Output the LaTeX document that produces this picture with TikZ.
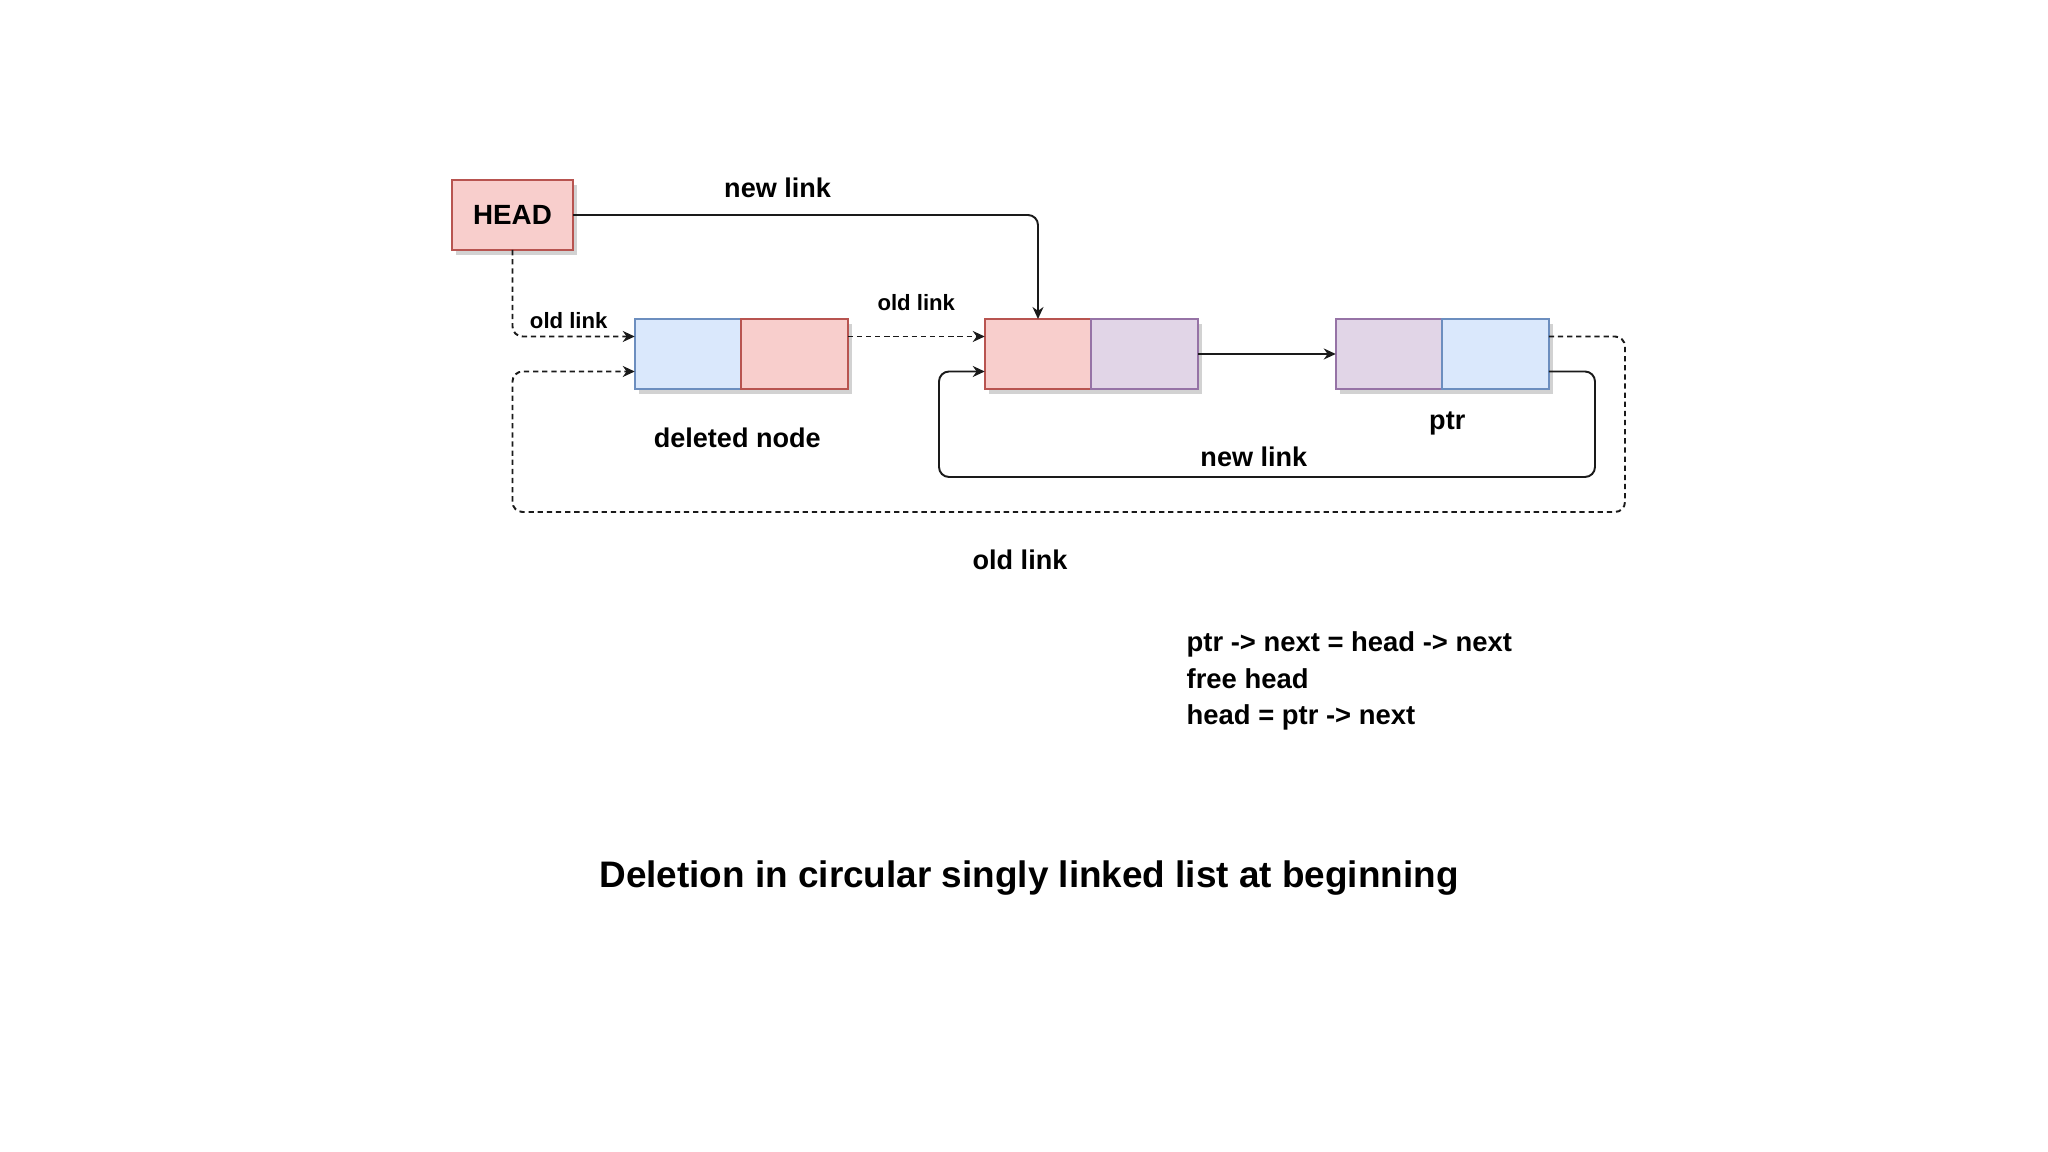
\documentclass[tikz,border=0pt]{standalone}
\usepackage{fontspec}
\setmainfont{Liberation Sans}
\usepackage{xcolor}
\usepackage{tikz}
\usetikzlibrary{positioning, arrows.meta, calc, shadows}
\definecolor{bluecell}{HTML}{DAE8FC}
\definecolor{blueline}{HTML}{6C8EBF}
\definecolor{redcell}{HTML}{F8CECC}
\definecolor{redline}{HTML}{B85450}
\definecolor{purplecell}{HTML}{E1D5E7}
\definecolor{purpleline}{HTML}{9673A6}
\definecolor{wire}{HTML}{1A1A1A}
\tikzset{
  cell/.style      = {rectangle, line width=0.45pt, minimum width=1.065cm,
                      minimum height=0.70cm, inner sep=0pt, outer sep=0pt,
                      drop shadow={shadow xshift=0.4mm, shadow yshift=-0.5mm,
                      opacity=0.35}},
  bluebox/.style   = {cell, draw=blueline, fill=bluecell},
  redbox/.style    = {cell, draw=redline, fill=redcell},
  purplebox/.style = {cell, draw=purpleline, fill=purplecell},
  headbox/.style   = {cell, draw=redline, fill=redcell, minimum width=1.21cm,
                      font=\fontsize{7.9}{9}\selectfont\bfseries},
  lbl/.style       = {font=\fontsize{7.7}{9}\selectfont\bfseries, inner sep=1pt},
  smalllbl/.style  = {font=\fontsize{6.3}{7.5}\selectfont\bfseries, inner sep=1pt},
  arr/.style       = {-{Stealth[length=1.2mm,width=1.1mm]}, line width=0.55pt,
                      draw=wire, rounded corners=1mm},
  darr/.style      = {arr, dash pattern=on 1.5pt off 1.1pt},
}

\begin{document}
\begin{tikzpicture}[node distance=0.5cm and 0.7cm]
  \path[use as bounding box, fill=white] (0,0) rectangle (20.48,11.52);

  % head and list cells
  \node[headbox] (head) at (5.125,9.37) {HEAD};
  \node[bluebox] (d1) at (6.88,7.98) {};
  \node[redbox, right=0pt of d1] (d2) {};
  \node[redbox, right=1.37cm of d2] (n1) {};
  \node[purplebox, right=0pt of n1] (n2) {};
  \node[purplebox, right=1.38cm of n2] (m1) {};
  \node[bluebox, right=0pt of m1] (m2) {};

  \node[lbl, below=3.5mm of d1.south east, xshift=-0.4mm] (dellbl) {deleted node};
  \node[lbl, below=1.9mm of m1.south east, xshift=0.5mm] (ptrlbl) {ptr};

  % loop corners
  \coordinate (oR) at (16.25,6.40);
  \coordinate (oL) at (head.south |- oR);
  \coordinate (iR) at (15.95,6.75);
  \coordinate (iL) at (9.39,6.75);

  % new links
  \draw[arr] (head.east) -| node[lbl, pos=0.22, above=1.3mm] {new link} (n1.north);
  \draw[arr] ($(m2.east)+(0,-0.175)$) -| (iR)
       -- node[lbl, pos=0.52, above=0.6mm] {new link} (iL)
       |- ($(n1.west)+(0,-0.175)$);
  \draw[arr] (n2.east) -- (m1.west);

  % old links
  \draw[darr] (head.south) |- node[smalllbl, pos=0.73, above=0.3mm] {old link}
       ($(d1.west)+(0,0.175)$);
  \draw[darr] ($(d2.east)+(0,0.175)$) -- node[smalllbl, above=2.1mm] {old link}
       ($(n1.west)+(0,0.175)$);
  \draw[darr] ($(m2.east)+(0,0.175)$) -| (oR) -- (oL)
       |- ($(d1.west)+(0,-0.175)$);
  \node[lbl] (oldlbl) at (10.20,5.92) {old link};

  % steps and caption
  \node[font=\fontsize{7.8}{10.5}\selectfont\bfseries, align=left, anchor=west,
        inner sep=0pt] (code) at (11.86,4.71)
       {ptr -> next = head -> next\\ free head\\ head = ptr -> next};
  \node[font=\fontsize{10.5}{12}\selectfont\bfseries] (title) at (10.29,2.74)
       {Deletion in circular singly linked list at beginning};

\end{tikzpicture}
\end{document}
